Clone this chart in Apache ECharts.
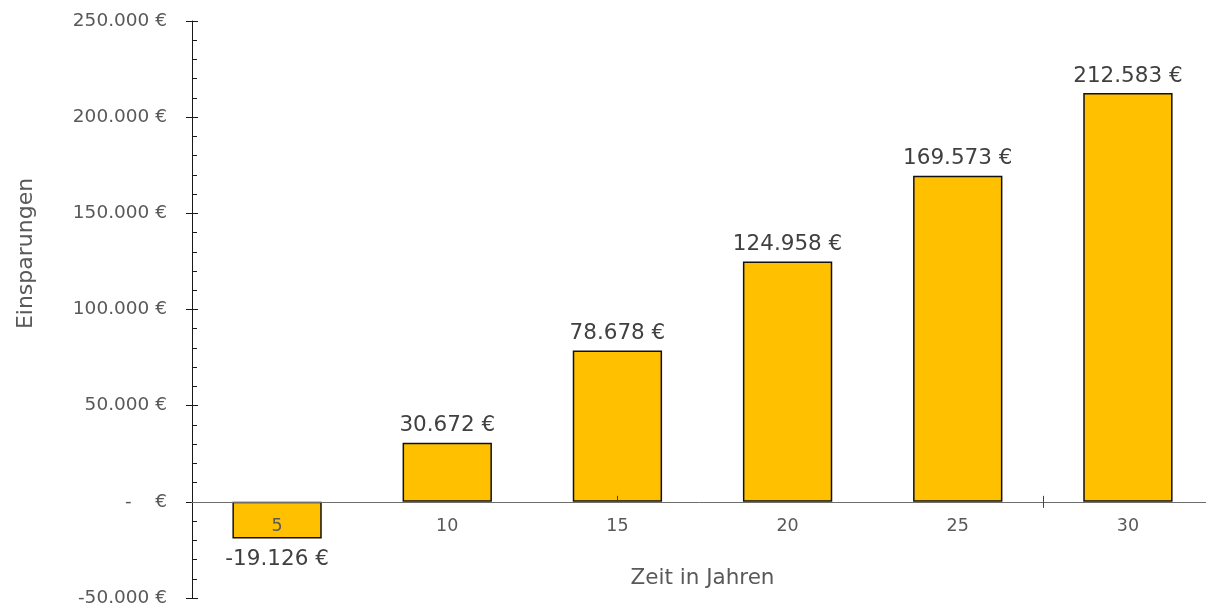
<!DOCTYPE html>
<html>
<head>
<meta charset="utf-8">
<script src="https://cdn.jsdelivr.net/npm/echarts@6/dist/echarts.min.js"></script>
<style>
html,body{margin:0;padding:0;background:#fff;}
#chart{width:1206px;height:608px;}
</style>
</head>
<body>
<div id="chart"></div>
<script>
var categories = ['5', '10', '15', '20', '25', '30'];
var savings = [-19126, 30672, 78678, 124958, 169573, 212583];
var yMin = -50000, yMax = 250000, yStep = 50000;
var xTitle = 'Zeit in Jahren';
var yTitle = 'Einsparungen';

function fmt(v) {
  var s = Math.abs(v).toFixed(0).replace(/\B(?=(\d{3})+(?!\d))/g, '.');
  return (v < 0 ? '-' : '') + s + ' €';
}

var FONT = 'DejaVu Sans, Verdana, sans-serif';
var GRID_H = 577;
// shift x axes from grid bottom up to the zero line
var zeroOffset = -GRID_H * (0 - yMin) / (yMax - yMin);

var chart = echarts.init(document.getElementById('chart'));

var barData = savings.map(function (v) {
  return { value: v, label: { position: v < 0 ? 'bottom' : 'top', distance: v < 0 ? 10 : 6 } };
});

chart.setOption({
  animation: false,
  backgroundColor: '#fff',
  grid: { left: 192, top: 21, width: 1021, height: GRID_H, containLabel: false, outerBoundsMode: 'none' },
  xAxis: [{
    type: 'category',
    data: categories,
    position: 'bottom',
    offset: zeroOffset,
    name: xTitle,
    nameLocation: 'middle',
    nameGap: 66,
    nameTextStyle: { fontFamily: FONT, fontSize: 21.5, color: '#595959' },
    axisLine: { onZero: false, lineStyle: { color: '#6e6e6e', width: 1 } },
    axisTick: { show: false },
    axisLabel: { fontFamily: FONT, fontSize: 17.5, color: '#595959', margin: 16 },
    splitLine: { show: false },
    z: 5
  }, {
    type: 'value', min: 0, max: 6, position: 'bottom', offset: zeroOffset,
    axisLine: { show: false, onZero: false },
    axisLabel: { show: false },
    splitLine: { show: false },
    axisTick: { show: true, inside: true, length: 6, customValues: [2.5, 5], lineStyle: { color: '#404040' } },
    z: 5
  }, {
    type: 'value', min: 0, max: 6, position: 'bottom', offset: zeroOffset,
    axisLine: { show: false, onZero: false },
    axisLabel: { show: false },
    splitLine: { show: false },
    axisTick: { show: true, inside: false, length: 6, customValues: [5], lineStyle: { color: '#404040' } },
    z: 5
  }],
  yAxis: [{
    type: 'value',
    min: yMin, max: yMax, interval: yStep,
    name: yTitle,
    nameLocation: 'middle',
    nameGap: 155,
    nameTextStyle: { fontFamily: FONT, fontSize: 22, color: '#595959', padding: [0, 0, 0, 112] },
    axisLine: { show: true, onZero: false, lineStyle: { color: '#1a1a1a', width: 1 } },
    axisTick: { show: true, inside: false, length: 6, lineStyle: { color: '#1a1a1a' } },
    axisLabel: {
      fontFamily: FONT, fontSize: 18.5, color: '#595959', margin: 25,
      formatter: function (v) { return v === 0 ? '-    €' : fmt(v); }
    },
    splitLine: { show: false }
  }, {
    type: 'value',
    min: yMin, max: yMax, interval: yStep,
    position: 'left',
    axisLine: { show: false, onZero: false },
    axisTick: { show: true, inside: true, length: 6, lineStyle: { color: '#1a1a1a' } },
    minorTick: { show: true, splitNumber: 5, length: 5, lineStyle: { color: '#1a1a1a' } },
    axisLabel: { show: false },
    splitLine: { show: false }
  }],
  series: [{
    type: 'bar',
    xAxisIndex: 0,
    yAxisIndex: 0,
    data: barData,
    barWidth: '52.5%',
    itemStyle: { color: '#FFC000', borderColor: '#111', borderWidth: 1.5 },
    label: {
      show: true,
      fontFamily: FONT, fontSize: 21.5, color: '#404040',
      formatter: function (p) { return fmt(p.value); }
    }
  }]
});
</script>
</body>
</html>
